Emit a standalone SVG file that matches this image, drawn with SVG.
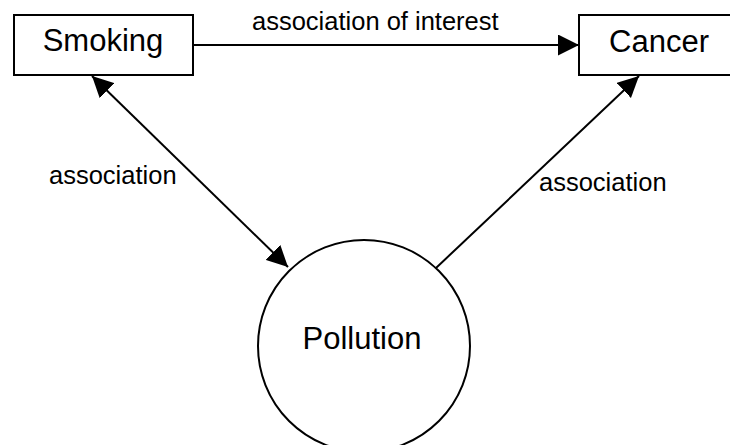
<svg xmlns="http://www.w3.org/2000/svg" width="730" height="445" viewBox="0 0 730 445">
<style>
.node{fill:#fff;stroke:#000;stroke-width:2}
.nt{font-family:"Liberation Sans",Arial,sans-serif;font-size:31px;fill:#000;text-anchor:middle}
.lt{font-family:"Liberation Sans",Arial,sans-serif;font-size:25.5px;fill:#000}
.edge{fill:none;stroke:#000;stroke-width:2}
</style>
<defs>
<marker id="ah" markerUnits="userSpaceOnUse" markerWidth="21" markerHeight="21" refX="21" refY="10.5" orient="auto-start-reverse" viewBox="0 0 21 21">
<path d="M0,0 L21,10.5 L0,21 z" fill="#000"/>
</marker>
</defs>
<rect width="730" height="445" fill="#fff"/>
<g id="connectors">
<line class="edge" x1="193" y1="45" x2="579" y2="45" marker-end="url(#ah)"/>
<line class="edge" x1="92" y1="76" x2="288" y2="267" marker-start="url(#ah)" marker-end="url(#ah)"/>
<line class="edge" x1="436" y1="268" x2="639" y2="76" marker-end="url(#ah)"/>
<text class="lt" x="252" y="30">association of interest</text>
<text class="lt" x="49" y="184">association</text>
<text class="lt" x="539" y="191">association</text>
</g>
<g id="smoking">
<rect class="node" x="14" y="15" width="179" height="60"/>
<text class="nt" x="103" y="51">Smoking</text>
</g>
<g id="cancer">
<rect class="node" x="579" y="15" width="160" height="60"/>
<text class="nt" x="659" y="52">Cancer</text>
</g>
<g id="pollution">
<circle class="node" cx="364" cy="346" r="106"/>
<text class="nt" x="362" y="349">Pollution</text>
</g>
</svg>
